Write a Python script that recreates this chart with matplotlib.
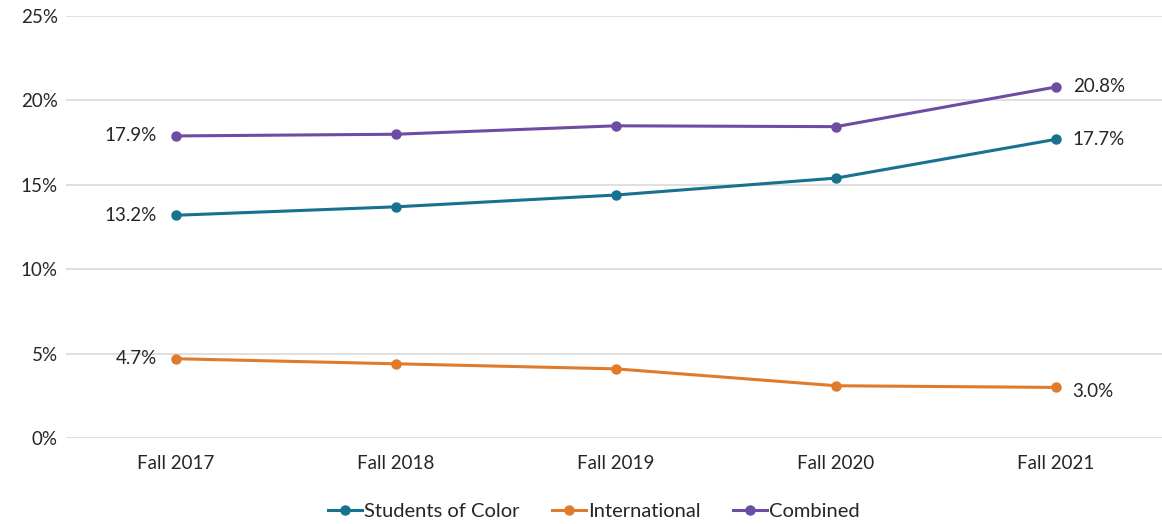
import matplotlib.pyplot as plt
from matplotlib.ticker import FuncFormatter

years = ['Fall 2017', 'Fall 2018', 'Fall 2019', 'Fall 2020', 'Fall 2021']
students_of_color = [13.2, 13.7, 14.4, 15.4, 17.7]
international = [4.7, 4.4, 4.1, 3.1, 3.0]
combined = [17.9, 18.0, 18.5, 18.45, 20.8]

colors = {'Students of Color': '#17718f',
          'International': '#e07b2c',
          'Combined': '#6d4ca3'}

plt.rcParams['font.family'] = ['Lato', 'DejaVu Sans']

fig = plt.figure(figsize=(11.62, 5.24), dpi=100)
ax = fig.add_axes([0.0568, 0.164, 0.9466, 0.8053])

x = range(len(years))
series = [('Students of Color', students_of_color),
          ('International', international),
          ('Combined', combined)]
for name, vals in series:
    ax.plot(x, vals, color=colors[name], lw=2.2, marker='o', ms=6.5, label=name)

# end-point labels: first value on the left, last value on the right
for name, vals in series:
    ax.annotate(f'{vals[0]:.1f}%', (0, vals[0]), xytext=(-14, 0), textcoords='offset points',
                ha='right', va='center', fontsize=13.5, color='#262626')
label_offsets = {'Students of Color': (12, 0), 'International': (12, -3), 'Combined': (12, 0)}
for name, vals in series:
    ax.annotate(f'{vals[-1]:.1f}%', (len(vals) - 1, vals[-1]), xytext=label_offsets[name],
                textcoords='offset points', ha='left', va='center', fontsize=13.5, color='#262626')

ax.set_xlim(-0.5, len(years) - 0.5)
ax.set_ylim(0, 25)
ax.set_yticks([0, 5, 10, 15, 20, 25])
ax.yaxis.set_major_formatter(FuncFormatter(lambda v, _: f'{v:.0f}%'))
ax.set_xticks(list(x))
ax.set_xticklabels(years)
ax.tick_params(axis='both', length=0, labelsize=13.5, labelcolor='#262626')
ax.tick_params(axis='y', pad=6)
ax.tick_params(axis='x', pad=12)
ax.grid(axis='y', color='#d9d9d9', lw=1.2)
ax.set_axisbelow(True)
for s in ax.spines.values():
    s.set_visible(False)

ax.legend(loc='upper center', bbox_to_anchor=(0.48, -0.11), ncol=3, frameon=False,
          fontsize=14.5, handlelength=1.7, handletextpad=0.1, columnspacing=1.6,
          labelcolor='#262626')

fig.savefig('out.png', dpi=100)
